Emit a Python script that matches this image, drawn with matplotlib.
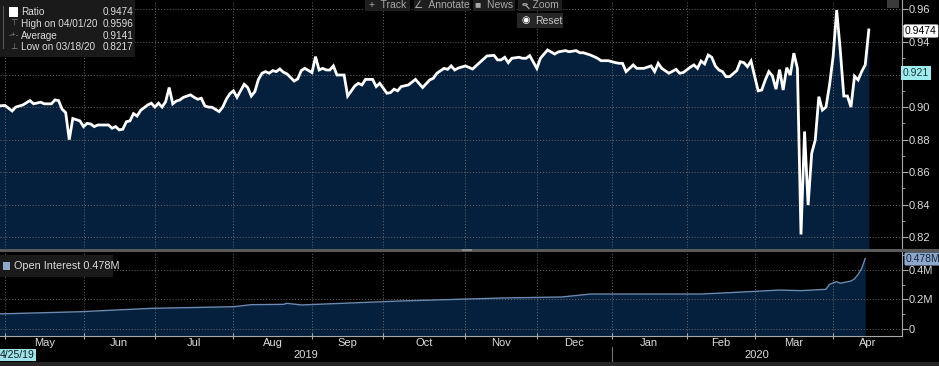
import matplotlib
matplotlib.use("Agg")
import matplotlib.pyplot as plt
from matplotlib.patches import Rectangle, Circle
from matplotlib.lines import Line2D
from matplotlib.ticker import FixedLocator, MultipleLocator
from matplotlib.transforms import blended_transform_factory

### Data (x = trading day index, 0 = late April 2019)
ratio_day = [0, 2, 4, 5, 7, 9, 10, 12, 13, 15, 16, 17, 18, 19, 20, 21, 23, 24, 25, 26,
             27, 28, 29, 31, 32, 33, 34, 35, 36, 37, 38, 39, 40, 42, 43, 44, 45, 46, 47, 48,
             49, 50, 51, 52, 54, 55, 56, 57, 58, 59, 60, 62, 63, 64, 65, 66, 67, 69, 70, 71,
             72, 73, 74, 75, 76, 77, 78, 79, 80, 81, 83, 84, 85, 86, 88, 89, 90, 91, 92, 93,
             94, 95, 96, 97, 98, 100, 101, 102, 103, 105, 106, 107, 109, 110, 111, 112, 113, 115, 117, 119,
             121, 122, 123, 125, 126, 127, 128, 129, 131, 133, 136, 137, 139, 140, 141, 142, 143, 144, 146, 147,
             148, 149, 151, 152, 154, 156, 157, 159, 160, 162, 163, 164, 166, 168, 169, 171, 173, 174, 175, 176,
             178, 179, 181, 183, 184, 185, 186, 188, 190, 191, 192, 194, 195, 196, 197, 198, 199, 200, 201, 202,
             203, 204, 205, 207, 208, 209, 210, 211, 213, 214, 215, 216, 217, 218, 219, 220, 221, 222, 223, 224,
             225, 226, 227, 228, 229, 230, 231, 232, 233, 234, 235, 236, 237, 238, 239, 240, 241, 242, 243, 244]
ratio = [0.9007, 0.901, 0.8976, 0.900, 0.9013, 0.904, 0.902, 0.903, 0.902, 0.902, 0.9044, 0.904, 0.8987, 0.8966, 0.880, 0.893, 0.8915, 0.888, 0.890, 0.8896,
         0.888, 0.889, 0.889, 0.889, 0.887, 0.888, 0.886, 0.8864, 0.891, 0.8915, 0.896, 0.8945, 0.898, 0.9013, 0.9024, 0.900, 0.9024, 0.900, 0.9033, 0.912,
         0.902, 0.9037, 0.9044, 0.906, 0.9075, 0.906, 0.9048, 0.9054, 0.9007, 0.900, 0.8999, 0.8972, 0.900, 0.9048, 0.9082, 0.910, 0.906, 0.914, 0.912, 0.9068,
         0.9095, 0.917, 0.9208, 0.9218, 0.9208, 0.9224, 0.9218, 0.9234, 0.9214, 0.9204, 0.916, 0.9173, 0.9224, 0.9238, 0.9212, 0.931, 0.9228, 0.9238, 0.9228, 0.9228,
         0.9253, 0.9197, 0.9197, 0.9197, 0.9068, 0.913, 0.9146, 0.9136, 0.917, 0.917, 0.9126, 0.9146, 0.9085, 0.9089, 0.911, 0.910, 0.9126, 0.9136, 0.917, 0.912,
         0.9167, 0.9177, 0.9208, 0.9238, 0.9232, 0.9253, 0.9228, 0.924, 0.9253, 0.9234, 0.9294, 0.9314, 0.9318, 0.929, 0.929, 0.9306, 0.9273, 0.930, 0.9306, 0.930,
         0.930, 0.9316, 0.9238, 0.930, 0.9351, 0.9326, 0.9339, 0.9347, 0.934, 0.9347, 0.9334, 0.9334, 0.932, 0.930, 0.9285, 0.9285, 0.9273, 0.9269, 0.9269, 0.9218,
         0.9259, 0.9238, 0.9238, 0.9253, 0.9218, 0.9269, 0.9238, 0.9208, 0.9232, 0.9208, 0.9212, 0.9245, 0.9259, 0.9238, 0.9283, 0.9265, 0.932, 0.9306, 0.9253, 0.9228,
         0.9218, 0.9187, 0.9187, 0.9224, 0.9279, 0.9273, 0.9248, 0.9283, 0.910, 0.9105, 0.9167, 0.9218, 0.9191, 0.911, 0.923, 0.9105, 0.9242, 0.9197, 0.9331, 0.9238,
         0.8217, 0.885, 0.8398, 0.8716, 0.8798, 0.9064, 0.8982, 0.900, 0.9136, 0.931, 0.9596, 0.9351, 0.9068, 0.9068, 0.900, 0.919, 0.9167, 0.9218, 0.9259, 0.9474]

oi_day = [0, 23, 43, 66, 71, 80, 81, 85, 113, 141, 158, 166, 174, 197, 208, 219, 225, 232, 233, 235, 236, 239, 240, 241, 242, 243]
open_interest = [0.102, 0.117, 0.140, 0.151, 0.165, 0.167, 0.174, 0.163, 0.190, 0.210, 0.217, 0.237, 0.237, 0.237, 0.250,
                 0.264, 0.260, 0.269, 0.303, 0.321, 0.310, 0.325, 0.340, 0.370, 0.410, 0.478]

month_start = [2, 24, 44, 66, 88, 108, 131, 151, 172, 193, 212, 234]
month_names = ["May", "Jun", "Jul", "Aug", "Sep", "Oct", "Nov", "Dec", "Jan", "Feb", "Mar", "Apr"]
years = ["2019", "2020"]

legend_rows = [("Ratio", "0.9474"), ("High on 04/01/20", "0.9596"),
               ("Average", "0.9141"), ("Low on 03/18/20", "0.8217")]

### Style
W, H = 939, 366
navy = "#05203d"
grid_c = "#6a6a6a"
axis_c = "#a8a8a8"
txt_c = "#dcdcdc"
x_lo, x_hi = 0.6, 253.3
plt.rcParams["font.family"] = ["Liberation Sans", "DejaVu Sans"]

def fx(px):
	return px / float(W)

def fy(py):
	return 1 - py / float(H)

fig = plt.figure(figsize=(W / 100.0, H / 100.0), dpi=100, facecolor="black")

def ftext(px, py, s, **kw):
	kw.setdefault("zorder", 10)
	return fig.text(fx(px), fy(py), s, **kw)

### Top pane: ratio
ax = fig.add_axes([0, fy(248), fx(902), 248.0 / H], facecolor="black")
ax.fill_between(ratio_day, ratio, 0.80, color=navy, lw=0, zorder=1)
ax.plot(ratio_day, ratio, color="white", lw=2.0, solid_joinstyle="miter", zorder=3)
ax.set_xlim(x_lo, x_hi)
ax.set_ylim(0.8134, 0.9658)
ax.yaxis.tick_right()
ax.yaxis.set_major_locator(FixedLocator([0.82, 0.84, 0.86, 0.88, 0.90, 0.94, 0.96]))
ax.yaxis.set_minor_locator(MultipleLocator(0.01))
ax.set_yticklabels(["0.82", "0.84", "0.86", "0.88", "0.90", "0.94", "0.96"])
ax.set_xticks(month_start)
ax.set_xticklabels([])
ax.tick_params(axis="x", length=0)
ax.tick_params(axis="y", which="major", direction="out", length=4, color=axis_c, labelcolor=txt_c, labelsize=8, pad=1)
ax.tick_params(axis="y", which="minor", direction="out", length=2.5, color=axis_c)
ax.grid(True, color=grid_c, linestyle=(0, (1, 2)), lw=0.7, zorder=2)
ax.axhline(0.92, color=grid_c, linestyle=(0, (1, 2)), lw=0.7, zorder=2)
for s in ["top", "left", "bottom"]:
	ax.spines[s].set_visible(False)
ax.spines["right"].set_color(axis_c)

### Bottom pane: open interest
axb = fig.add_axes([0, fy(336), fx(902), 84.0 / H], facecolor="black")
axb.fill_between(oi_day, open_interest, -0.1, color=navy, lw=0, zorder=1)
axb.plot(oi_day, open_interest, color="#6b8ab2", lw=1.0, zorder=3)
axb.set_xlim(x_lo, x_hi)
axb.set_ylim(-0.0475, 0.522)
axb.yaxis.tick_right()
axb.set_yticks([0, 0.2, 0.4])
axb.set_yticklabels(["0", "0.2M", "0.4M"])
axb.yaxis.set_minor_locator(MultipleLocator(0.1))
axb.set_xticks(month_start)
axb.set_xticklabels([])
axb.tick_params(axis="x", direction="inout", length=4, color=axis_c)
axb.tick_params(axis="y", which="major", direction="out", length=4, color=axis_c, labelcolor=txt_c, labelsize=8, pad=1)
axb.tick_params(axis="y", which="minor", direction="out", length=2.5, color=axis_c)
axb.grid(True, color=grid_c, linestyle=(0, (1, 2)), lw=0.7, zorder=2)
for s in ["top", "left"]:
	axb.spines[s].set_visible(False)
axb.spines["right"].set_color(axis_c)
axb.spines["bottom"].set_color(axis_c)

# month and year labels
tr = blended_transform_factory(axb.transData, axb.transAxes)
edges = month_start + [x_hi]
for k in range(len(month_names)):
	axb.text((edges[k] + edges[k + 1]) / 2.0, -0.085, month_names[k], transform=tr,
		ha="center", va="center", color=txt_c, fontsize=8)
axb.text((x_lo + month_start[8]) / 2.0, -0.225, years[0], transform=tr, ha="center", va="center", color=txt_c, fontsize=8)
axb.text((month_start[8] + x_hi) / 2.0, -0.225, years[1], transform=tr, ha="center", va="center", color=txt_c, fontsize=8)
axb.plot([month_start[8], month_start[8]], [-0.13, -0.31], transform=tr, color="#777777", lw=0.8, clip_on=False)

### Decorations in figure pixels
def box(x0, y0, x1, y1, fc, ec="none", lw=0):
	fig.patches.append(Rectangle((fx(x0), fy(y1)), fx(x1) - fx(x0), fy(y0) - fy(y1),
		transform=fig.transFigure, facecolor=fc, edgecolor=ec, lw=lw, zorder=5))

# pane separator
fig.add_artist(Line2D([0, 1], [fy(250), fy(250)], color="#5a5a5a", lw=2.2))
box(462, 248.5, 472, 251, "#8a8a8a")
# bottom strip
box(0, 362, 939, 366, "#262626")

# legend top-left
box(0, 0, 135, 57, "#1a1a1a")
box(9, 7, 18, 17, "white")
fig.add_artist(Line2D([fx(3), fx(3)], [fy(6), fy(48)], color="#555555", lw=0.8, zorder=6))
glyphs = ["", "\u22a4", "-+-", "\u22a5"]
for k, (name, val) in enumerate(legend_rows):
	yy = 12 + 11.8 * k
	if glyphs[k]:
		ftext(13.5, yy, glyphs[k], ha="center", va="center", color="#8a8a8a", fontsize=6)
	ftext(21, yy, name, ha="left", va="center", color=txt_c, fontsize=7.2)
	ftext(103, yy, val, ha="left", va="center", color=txt_c, fontsize=7.2)

# toolbar
tools = [(365, 410, "+  Track"), (414, 470, "\u2220  Annotate"), (473, 515, "\u25a0  News"), (518, 562, "    Zoom")]
for x0, x1, lab in tools:
	box(x0, 0, x1, 11, "#1e1e1e")
	ftext((x0 + x1) / 2.0, 5.5, lab, ha="center", va="center", color="#a8a8a8", fontsize=7.5)
# magnifier icon for Zoom
fig.add_artist(Circle((fx(525), fy(4.5)), 2.2 / W, transform=fig.transFigure, fill=False, ec="#a8a8a8", lw=0.8, zorder=11))
fig.add_artist(Line2D([fx(526.5), fx(529)], [fy(6), fy(8.5)], color="#a8a8a8", lw=0.9, zorder=11))
box(517, 13, 563, 28, "#262626")
ftext(526, 20.5, "\u25c9", ha="center", va="center", color="white", fontsize=7)
ftext(535, 20.5, "Reset", ha="left", va="center", color="#c8c8c8", fontsize=7.5)
box(887, 0, 899, 8, "#3a3a3a")

# right value labels
ftext(905, 31, "0.9474", ha="left", va="center", color="black", fontsize=7.5,
	bbox=dict(boxstyle="round,pad=0.15", fc="white", ec="none"))
ftext(903, 73, "0.921", ha="left", va="center", color="#1a3a3a", fontsize=7.5,
	bbox=dict(boxstyle="square,pad=0.15", fc="#9fecef", ec="none"))
ftext(906, 259, "0.478M", ha="left", va="center", color="#15253d", fontsize=7.5,
	bbox=dict(boxstyle="round,pad=0.15", fc="#8ea8cb", ec="none"))

# bottom legend
box(0, 255, 113, 277, "#1a1a1a")
box(3, 262, 10, 270, "#8ea8c8")
ftext(14, 266, "Open Interest 0.478M", ha="left", va="center", color=txt_c, fontsize=7.8)

# start date label
ftext(0, 355, "4/25/19", ha="left", va="center", color="#102020", fontsize=7.5,
	bbox=dict(boxstyle="square,pad=0.12", fc="#9fe3ea", ec="none"))

fig.savefig("out.png", dpi=100, facecolor="black")
